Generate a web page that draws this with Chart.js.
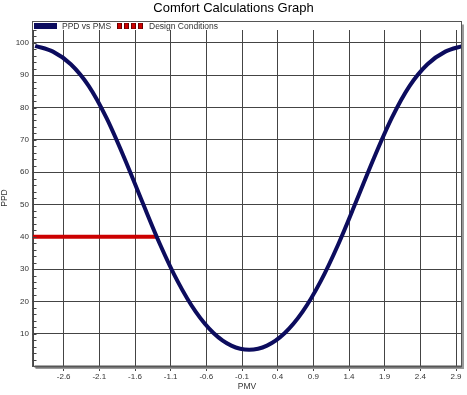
<!DOCTYPE html>
<html>
<head>
<meta charset="utf-8">
<script src="https://cdn.jsdelivr.net/npm/chart.js@4/dist/chart.umd.min.js"></script>
<style>
html,body{margin:0;padding:0;background:#fff;}
#wrap{width:467px;height:395px;position:relative;}
</style>
</head>
<body>
<div id="wrap"><canvas id="c" width="467" height="395"></canvas></div>
<script>
// ---- data ----
const chartTitle = "Comfort Calculations Graph";
const seriesNames = ["PPD vs PMS", "Design Conditions"];
const pmvValues = [-3, -2.75, -2.5, -2.25, -2, -1.75, -1.5, -1.25, -1, -0.75, -0.5, -0.25, 0,
                   0.25, 0.5, 0.75, 1, 1.25, 1.5, 1.75, 2, 2.25, 2.5, 2.75, 3];
const ppdValues = [99.1, 97.3, 93.4, 86.7, 76.8, 64.4, 50.9, 37.7, 26.1, 16.8, 10.2, 6.3, 5.0,
                   6.3, 10.2, 16.8, 26.1, 37.7, 50.9, 64.4, 76.8, 86.7, 93.4, 97.3, 99.1];
const designPmv = [-3.03, -1.29];
const designPpd = [40, 40];
const xTickValues = [-2.6, -2.1, -1.6, -1.1, -0.6, -0.1, 0.4, 0.9, 1.4, 1.9, 2.4, 2.9];
const yTickValues = [10, 20, 30, 40, 50, 60, 70, 80, 90, 100];
const yMinorStep = 2;

const NAVY = '#0c0c5e';
const RED = '#cc0000';
const FONT = '"Liberation Sans", Arial, sans-serif';

const framePlugin = {
  id: 'framePlugin',
  beforeDraw(chart) {
    const ctx = chart.ctx;
    ctx.save();
    ctx.fillStyle = '#fff';
    ctx.fillRect(0, 0, chart.width, chart.height);
    ctx.restore();
  },
  afterDraw(chart) {
    const ctx = chart.ctx;
    const a = chart.chartArea;
    const ys = chart.scales.y;
    ctx.save();
    // title
    ctx.fillStyle = '#000';
    ctx.font = '13px ' + FONT;
    ctx.textAlign = 'center';
    ctx.textBaseline = 'middle';
    ctx.fillText(chartTitle, chart.width / 2, 8);
    // frame
    const L = Math.round(a.left) - 0.5, R = Math.round(a.right) + 0.5;
    const T = 21.5, B = Math.round(a.bottom) + 0.5;
    ctx.strokeStyle = '#555';
    ctx.lineWidth = 1;
    ctx.strokeRect(L, T, R - L, B - T);
    // shadow
    ctx.strokeStyle = '#9a9a9a';
    ctx.lineWidth = 2;
    ctx.beginPath();
    ctx.moveTo(R + 1.5, T + 3);
    ctx.lineTo(R + 1.5, B + 1.5);
    ctx.lineTo(L + 3, B + 1.5);
    ctx.stroke();
    ctx.strokeStyle = '#555';
    ctx.lineWidth = 2;
    ctx.beginPath();
    ctx.moveTo(L + 2, B);
    ctx.lineTo(R, B);
    ctx.stroke();
    // minor ticks on y axis
    ctx.strokeStyle = '#444';
    ctx.lineWidth = 1;
    ctx.beginPath();
    for (let v = yMinorStep; v <= ys.max; v += yMinorStep) {
      const py = Math.round(ys.getPixelForValue(v)) + 0.5;
      ctx.moveTo(L, py);
      ctx.lineTo(L + 4, py);
    }
    ctx.stroke();
    // legend
    ctx.fillStyle = NAVY;
    ctx.fillRect(L + 1.5, 23, 23, 6);
    ctx.fillStyle = '#333';
    ctx.font = '8.5px ' + FONT;
    ctx.textAlign = 'left';
    ctx.textBaseline = 'middle';
    ctx.fillText(seriesNames[0], 62, 26.5);
    for (let i = 0; i < 4; i++) {
      const x0 = 117 + i * 7;
      ctx.fillStyle = '#600';
      ctx.fillRect(x0, 23, 5, 6);
      ctx.fillStyle = RED;
      ctx.fillRect(x0 + 1, 23.5, 3, 5);
    }
    ctx.fillStyle = '#333';
    ctx.fillText(seriesNames[1], 149, 26.5);
    ctx.restore();
  }
};

new Chart(document.getElementById('c'), {
  type: 'line',
  data: {
    datasets: [
      {
        label: seriesNames[0],
        data: pmvValues.map((x, i) => ({ x: x, y: ppdValues[i] })),
        borderColor: NAVY,
        borderWidth: 4,
        pointRadius: 0,
        cubicInterpolationMode: 'monotone',
        fill: false
      },
      {
        label: seriesNames[1],
        data: designPmv.map((x, i) => ({ x: x, y: designPpd[i] })),
        borderColor: RED,
        borderWidth: 4,
        pointRadius: 0,
        borderCapStyle: 'butt',
        fill: false
      }
    ]
  },
  options: {
    responsive: false,
    animation: false,
    devicePixelRatio: 1,
    layout: { padding: { top: 30, left: 0, right: 6, bottom: 0 } },
    plugins: { legend: { display: false }, title: { display: false }, tooltip: { enabled: false } },
    scales: {
      x: {
        type: 'linear',
        min: -3.03,
        max: 2.97,
        afterFit(s) { s.height = 29; },
        afterBuildTicks(s) { s.ticks = xTickValues.map(v => ({ value: v })); },
        grid: { color: '#444', lineWidth: 1, drawTicks: true, tickLength: 5, tickColor: '#444' },
        border: { display: false },
        ticks: {
          color: '#333',
          font: { family: FONT, size: 8 },
          padding: 1,
          maxRotation: 0,
          autoSkip: false,
          callback: v => String(v)
        },
        title: { display: true, text: 'PMV', color: '#333', font: { family: FONT, size: 8.5 }, padding: { top: 0, bottom: 3 } }
      },
      y: {
        type: 'linear',
        min: 0,
        max: 104,
        afterFit(s) { s.width = 33; },
        afterBuildTicks(s) { s.ticks = yTickValues.map(v => ({ value: v })); },
        grid: { color: '#444', lineWidth: 1, drawTicks: false },
        border: { display: true, color: '#444' },
        ticks: {
          color: '#333',
          font: { family: FONT, size: 8 },
          padding: 4,
          callback: v => String(v)
        },
        title: { display: true, text: 'PPD', color: '#333', font: { family: FONT, size: 8.5 }, padding: { top: 0, bottom: 0 } }
      }
    }
  },
  plugins: [framePlugin]
});
</script>
</body>
</html>
